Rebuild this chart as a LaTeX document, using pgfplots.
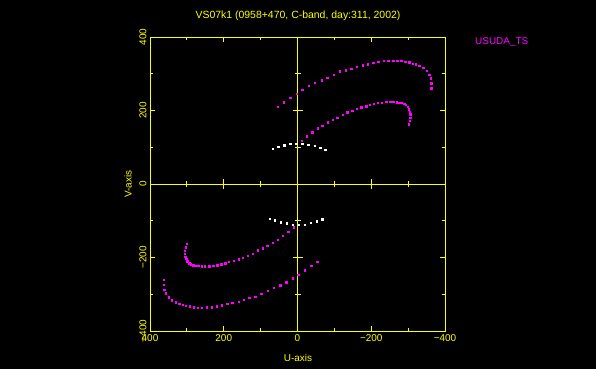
\documentclass[border=0pt]{standalone}
\usepackage{pgfplots}
\pgfplotsset{compat=1.18}
\usepackage{fontspec}
\setmainfont{Liberation Sans}
\definecolor{pgyellow}{RGB}{255,255,0}
\definecolor{pgmagenta}{RGB}{255,0,255}
\begin{document}
\begin{tikzpicture}[x=1bp,y=1bp,font=\fontsize{10}{12}\selectfont]
\fill[black] (0,0) rectangle (596,369);
% zero lines with ticks (centre of the box at 297.5, 185)
\begin{scope}[pgyellow, line width=1bp]
\draw (297.5,38) -- (297.5,332);
\draw (150,185) -- (445,185);
\foreach \d in {-110.25,-36.75,36.75,110.25} \draw (294.5,185+\d) -- (300.5,185+\d);
\foreach \d in {-73.5,73.5} \draw (292.5,185+\d) -- (302.5,185+\d);
\foreach \d in {-110.625,-36.875,36.875,110.625} \draw (297.5+\d,182) -- (297.5+\d,188);
\foreach \d in {-73.75,73.75} \draw (297.5+\d,180) -- (297.5+\d,190);
\end{scope}
\begin{axis}[at={(150bp,38bp)}, anchor=south west, scale only axis,
  width=295bp, height=294bp,
  xmin=-400, xmax=400, ymin=-400, ymax=400, x dir=reverse,
  axis line style={pgyellow, line width=1bp},
  xtick={-400,-200,0,200,400}, xticklabels={−400,−200,0,200,400},
  ytick={-400,-200,0,200,400}, yticklabels={−400,−200,0,200,400},
  minor tick num=1, tick align=inside,
  major tick length=5bp, minor tick length=3bp,
  tick style={pgyellow, line width=1bp},
  tick label style={pgyellow, font=\fontsize{10}{12}\selectfont},
  yticklabel style={rotate=90, anchor=south},
  clip=false]
% upper outer arc
\addplot[only marks, mark=square*, mark size=0.7bp, pgmagenta, mark options={draw=none}] coordinates {
(53,211)(37,223)(20,235)(2,246)(-13,256)(-31,267)(-47,275)(-65,282)(-81,290)(-98,298)(-115,307)(-131,310)(-146,314)(-160,320)(-177,323)(-191,326)(-205,330)(-219,333)(-233,335)(-246,335)(-260,336)(-270,336)(-281,335)(-292,333)(-303,331)(-312,328)(-321,326)(-330,322)(-341,316)(-350,308)(-357,297)(-361,288)(-363,274)(-363,261)};
% upper inner arc
\addplot[only marks, mark=square*, mark size=0.7bp, pgmagenta, mark options={draw=none}] coordinates {
(-11,118)(-25,130)(-40,141)(-54,152)(-67,159)(-82,168)(-95,175)(-108,180)(-122,189)(-135,195)(-148,200)(-160,205)(-173,209)(-186,212)(-196,216)(-207,218)(-218,221)(-229,222)(-240,224)(-251,224)(-260,224)(-269,223)(-276,222)(-283,221)(-289,218)(-294,215)(-299,210)(-302,204)(-305,197)(-306,190)(-306,181)(-304,172)(-301,163)};
% lower outer arc
\addplot[only marks, mark=square*, mark size=0.7bp, pgmagenta, mark options={draw=none}] coordinates {
(-53,-211)(-37,-223)(-20,-235)(-2,-246)(13,-256)(31,-267)(47,-275)(65,-282)(81,-290)(98,-298)(115,-307)(131,-310)(146,-314)(160,-320)(177,-323)(191,-326)(205,-330)(219,-333)(233,-335)(246,-335)(260,-336)(270,-336)(281,-335)(292,-333)(303,-331)(312,-328)(321,-326)(330,-322)(341,-316)(350,-308)(357,-297)(361,-288)(363,-274)(363,-261)};
% lower inner arc
\addplot[only marks, mark=square*, mark size=0.7bp, pgmagenta, mark options={draw=none}] coordinates {
(11,-118)(25,-130)(40,-141)(54,-152)(67,-159)(82,-168)(95,-175)(108,-180)(122,-189)(135,-195)(148,-200)(160,-205)(173,-209)(186,-212)(196,-216)(207,-218)(218,-221)(229,-222)(240,-224)(251,-224)(260,-224)(269,-223)(276,-222)(283,-221)(289,-218)(294,-215)(299,-210)(302,-204)(305,-197)(306,-190)(306,-181)(304,-172)(301,-163)};
% white arcs
\addplot[only marks, mark=square*, mark size=0.7bp, white, mark options={draw=none}] coordinates {
(67,96)(52,101)(36,106)(20,110)(3,110)(-13,110)(-29,107)(-46,104)(-62,99)(-75,94)};
\addplot[only marks, mark=square*, mark size=0.7bp, white, mark options={draw=none}] coordinates {
(-67,-96)(-52,-101)(-36,-106)(-20,-110)(-3,-110)(13,-110)(29,-107)(46,-104)(62,-99)(75,-94)};
\end{axis}
\node[pgyellow, font=\fontsize{10.5}{12}\selectfont] at (298,353) {VS07k1 (0958+470, C-band, day:311, 2002)};
\node[pgyellow] at (298,11) {U-axis};
\node[pgyellow, rotate=90] at (128,185) {V-axis};
\node[pgmagenta, anchor=west, inner sep=0pt] at (475,327) {USUDA\_TS};
\pgfresetboundingbox
\path[use as bounding box] (0,0) rectangle (596,369);
\end{tikzpicture}
\end{document}
